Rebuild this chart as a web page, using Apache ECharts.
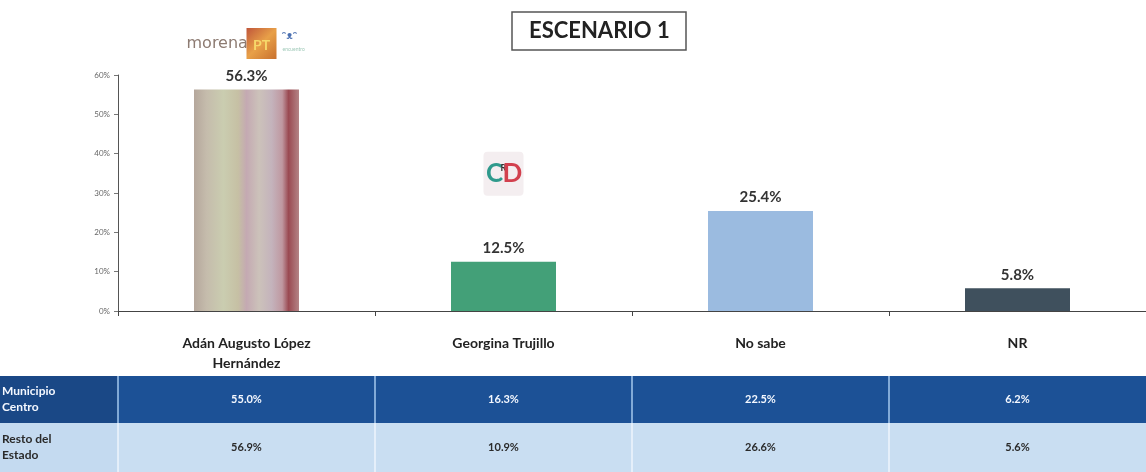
<!DOCTYPE html>
<html>
<head>
<meta charset="utf-8">
<script src="https://cdn.jsdelivr.net/npm/echarts@6/dist/echarts.min.js"></script>
<style>
  html, body { margin: 0; padding: 0; background: #fff; }
  #chart { width: 1146px; height: 472px; }
</style>
</head>
<body>
<div id="chart"></div>
<script>
  // datos
  const categories = ['Adán Augusto López\nHernández', 'Georgina Trujillo', 'No sabe', 'NR']
  const totalValues = [56.3, 12.5, 25.4, 5.8]
  const rowLabels = ['Municipio\nCentro', 'Resto del\nEstado']
  const centroValues = [55.0, 16.3, 22.5, 6.2]
  const restoValues = [56.9, 10.9, 26.6, 5.6]
  const yMax = 60
  const yStep = 10

  const FONT = 'Lato, "Open Sans", sans-serif'
  const pct = (v) => v.toFixed(1) + '%'

  const barColors = [
    {
      type: 'linear', x: 0, y: 0, x2: 1, y2: 0,
      colorStops: [
        { offset: 0, color: '#b5a79c' },
        { offset: 0.12, color: '#c5bcac' },
        { offset: 0.28, color: '#cacdb0' },
        { offset: 0.42, color: '#c6c0a4' },
        { offset: 0.5, color: '#c4a9b2' },
        { offset: 0.62, color: '#ccc2ba' },
        { offset: 0.74, color: '#c4b3bc' },
        { offset: 0.84, color: '#bf98a0' },
        { offset: 0.9, color: '#9a4a52' },
        { offset: 1, color: '#b48486' }
      ]
    },
    '#43a078',
    '#9bbbe0',
    '#3f505d'
  ]

  const chart = echarts.init(document.getElementById('chart'))

  chart.setOption({
    animation: false,
    textStyle: { fontFamily: FONT },
    title: {
      text: 'ESCENARIO 1',
      left: 512,
      top: 12,
      padding: [8, 17],
      borderColor: '#555',
      borderWidth: 1.5,
      textStyle: { fontFamily: FONT, fontSize: 22, fontWeight: 'bold', color: '#222' }
    },
    grid: { left: 118, top: 75, width: 1040, bottom: 161 },
    xAxis: {
      type: 'category',
      data: categories,
      axisLine: { lineStyle: { color: '#444', width: 1.2 } },
      axisTick: { show: true, length: 5, lineStyle: { color: '#444' } },
      axisLabel: {
        interval: 0,
        margin: 22,
        fontFamily: FONT,
        fontSize: 14,
        fontWeight: 'bold',
        color: '#222',
        lineHeight: 20
      }
    },
    yAxis: {
      type: 'value',
      min: 0,
      max: yMax,
      interval: yStep,
      splitLine: { show: false },
      axisLine: { show: true, lineStyle: { color: '#555' } },
      axisTick: { show: true, length: 4, lineStyle: { color: '#777' } },
      axisLabel: {
        formatter: '{value}%',
        fontSize: 8,
        color: '#666',
        margin: 8
      }
    },
    series: [
      {
        type: 'bar',
        barWidth: 105,
        data: totalValues.map((v, i) => ({ value: v, itemStyle: { color: barColors[i] } })),
        label: {
          show: true,
          position: 'top',
          distance: 6,
          formatter: (p) => pct(p.value),
          fontFamily: FONT,
          fontSize: 15,
          fontWeight: 'bold',
          color: '#333'
        }
      }
    ]
  })

  // tabla y logotipos
  const px = (i) => chart.convertToPixel({ xAxisIndex: 0 }, i)
  const py = (v) => chart.convertToPixel({ yAxisIndex: 0 }, v)
  const half = (px(1) - px(0)) / 2
  const rows = [
    { label: rowLabels[0], values: centroValues, y: 376, h: 47, bg: '#1c5196', labelBg: '#1a4886', text: '#f4f8ff', line: '#a4c8ec' },
    { label: rowLabels[1], values: restoValues, y: 423, h: 49, bg: '#c9def2', labelBg: '#c4daf0', text: '#2a2a2a', line: '#eef5fc' }
  ]

  const elements = []
  rows.forEach((r) => {
    elements.push({
      type: 'rect',
      shape: { x: 0, y: r.y, width: 1146, height: r.h },
      style: { fill: r.bg }
    })
    elements.push({
      type: 'rect',
      shape: { x: 0, y: r.y, width: px(0) - half, height: r.h },
      style: { fill: r.labelBg }
    })
    elements.push({
      type: 'text',
      x: 2,
      y: r.y + r.h / 2,
      style: {
        text: r.label,
        fill: r.text,
        font: 'bold 12px ' + FONT,
        lineHeight: 16,
        verticalAlign: 'middle'
      }
    })
    r.values.forEach((v, i) => {
      const edge = px(i) - half
      elements.push({
        type: 'line',
        shape: { x1: edge, y1: r.y, x2: edge, y2: r.y + r.h },
        style: { stroke: r.line, lineWidth: 1.5 }
      })
      elements.push({
        type: 'text',
        x: px(i),
        y: r.y + r.h / 2,
        style: {
          text: pct(v),
          fill: r.text,
          font: 'bold 11px ' + FONT,
          align: 'center',
          verticalAlign: 'middle'
        }
      })
    })
  })

  // logotipo morena / PT
  const mx = px(0)
  elements.push(
    {
      type: 'text',
      x: mx - 60,
      y: 44,
      style: { text: 'morena', fill: '#8d7b72', font: '16px "DejaVu Sans", sans-serif', verticalAlign: 'middle' }
    },
    {
      type: 'rect',
      shape: { x: mx, y: 28, width: 30, height: 31 },
      style: {
        fill: {
          type: 'linear', x: 0, y: 0, x2: 1, y2: 1,
          colorStops: [
            { offset: 0, color: '#c0563a' },
            { offset: 0.5, color: '#e8a048' },
            { offset: 1, color: '#c8702e' }
          ]
        }
      }
    },
    {
      type: 'text',
      x: mx + 15,
      y: 45,
      style: { text: 'PT', fill: '#f6d86a', font: 'bold 14px ' + FONT, align: 'center', verticalAlign: 'middle' }
    },
    {
      type: 'text',
      x: mx + 35,
      y: 36,
      style: { text: 'ᵔᴥᵔ', fill: '#4a6fb0', font: 'bold 10px "DejaVu Sans", sans-serif', verticalAlign: 'middle' }
    },
    {
      type: 'text',
      x: mx + 36,
      y: 49,
      style: { text: 'encuentro', fill: '#9fc9b8', font: '5px ' + FONT, verticalAlign: 'middle' }
    }
  )

  // logotipo PRI / PRD
  const gx = px(1)
  const gy = py(totalValues[1]) - 88
  elements.push(
    {
      type: 'rect',
      shape: { x: gx - 20, y: gy - 22, width: 40, height: 44, r: 4 },
      style: { fill: '#f4eef0' }
    },
    {
      type: 'text',
      x: gx - 9,
      y: gy,
      style: { text: 'C', fill: '#2f9a8c', font: 'bold 26px ' + FONT, align: 'center', verticalAlign: 'middle' }
    },
    {
      type: 'text',
      x: gx,
      y: gy - 6,
      style: { text: 'R', fill: '#333', font: 'bold 9px ' + FONT, align: 'center', verticalAlign: 'middle' }
    },
    {
      type: 'text',
      x: gx + 9,
      y: gy,
      style: { text: 'D', fill: '#d2404e', font: 'bold 26px ' + FONT, align: 'center', verticalAlign: 'middle' }
    }
  )

  chart.setOption({ graphic: { elements } })
</script>
</body>
</html>
